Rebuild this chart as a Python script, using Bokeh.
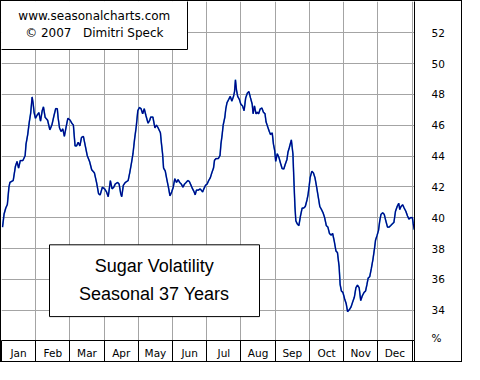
from bokeh.plotting import figure
from bokeh.models import Range1d, FixedTicker, Label, BoxAnnotation, CustomJSTickFormatter
from bokeh.embed import file_html
from bokeh.resources import INLINE

# ---- data ----
days = [0.9, 2.3, 3.8, 5.2, 6.6, 7.5, 10.4, 12.4, 13.8, 15.2, 16.7, 19.0, 21.0, 21.8, 23.3, 24.7,
        25.9, 26.7, 27.2, 28.1, 29.0, 30.2, 31.5, 33.3, 34.7, 36.2, 37.3, 38.8, 41.0, 43.0, 44.8,
        46.7, 48.2, 49.6, 50.4, 51.6, 53.0, 54.5, 55.9, 57.3, 59.0, 61.1, 62.5, 63.9, 65.4, 66.8,
        68.2, 69.7, 71.1, 72.8, 74.5, 76.2, 78.3, 80.2, 82.6, 84.5, 86.3, 87.7, 89.7, 91.7, 93.4,
        94.9, 96.8, 98.3, 99.8, 101.1, 103.2, 104.6, 106.0, 106.9, 108.3, 110.1, 112.6, 114.0,
        115.5, 116.9, 118.3, 119.8, 121.2, 122.6, 124.1, 125.5, 126.9, 128.4, 130.3, 131.8, 132.7,
        134.6, 136.4, 137.8, 139.3, 141.3, 142.1, 143.2, 144.1, 145.6, 147.0, 148.4, 149.8, 151.3,
        152.7, 154.1, 155.6, 157.0, 158.4, 159.9, 161.3, 162.7, 164.2, 165.6, 167.0, 168.5, 169.9,
        171.3, 172.2, 173.3, 175.0, 176.5, 177.6, 178.8, 179.9, 181.4, 182.8, 184.2, 185.7, 187.0,
        188.5, 189.4, 190.8, 192.8, 194.3, 195.1, 196.2, 197.1, 198.6, 199.4, 200.5, 202.0, 203.4,
        204.8, 206.3, 207.2, 208.0, 208.9, 210.0, 211.5, 212.8, 214.3, 215.7, 217.1, 218.6, 220.0,
        221.4, 222.9, 223.7, 224.9, 226.3, 227.4, 228.6, 230.0, 231.5, 232.9, 234.3, 235.2, 236.6,
        238.1, 239.2, 240.7, 241.8, 242.9, 243.8, 245.2, 246.7, 248.1, 249.5, 251.0, 252.3, 253.8,
        254.7, 255.8, 257.7, 259.1, 260.0, 260.9, 261.7, 263.0, 264.4, 265.8, 267.3, 268.7, 270.1,
        271.6, 272.5, 273.6, 274.4, 275.9, 277.3, 278.7, 280.2, 281.6, 283.0, 284.5, 285.9, 287.3,
        288.8, 290.2, 291.6, 293.1, 294.4, 295.9, 297.4, 298.7, 300.2, 301.1, 302.2, 303.6, 305.1,
        306.5, 307.7, 309.4, 310.8, 312.2, 313.7, 315.1, 316.5, 318.0, 319.4, 320.8, 322.3, 323.7,
        324.9, 326.0, 327.4, 328.8, 330.3, 331.7, 332.6, 334.0, 335.2, 336.3, 337.4, 338.9, 340.3,
        341.7, 343.2, 344.6, 346.0, 347.5, 348.9, 350.3, 351.8, 353.2, 354.1, 355.2, 356.7, 358.0,
        359.5, 361.0, 362.3, 363.8, 365.3, 366.1, 367.0]
volatility = [39.39, 40.24, 40.63, 40.86, 41.98, 42.29, 42.41, 43.34, 43.65, 43.22, 43.71, 43.71,
              44.02, 44.77, 45.39, 46.20, 46.76, 47.38, 47.83, 47.44, 46.82, 46.45, 46.63, 46.82,
              46.26, 46.94, 47.19, 46.51, 46.32, 45.70, 46.01, 46.63, 47.08, 47.07, 46.45, 45.82,
              45.59, 45.76, 45.28, 45.82, 46.45, 46.32, 46.13, 46.01, 44.66, 44.66, 44.89, 44.66,
              45.20, 45.28, 44.66, 44.04, 43.65, 43.11, 42.91, 42.29, 41.56, 41.48, 41.98, 41.87,
              41.67, 41.36, 42.41, 41.87, 41.98, 42.18, 42.29, 42.18, 41.56, 41.36, 42.10, 42.29,
              42.41, 42.91, 43.53, 44.15, 45.08, 45.91, 46.94, 47.15, 47.07, 46.74, 47.07, 46.63,
              46.13, 46.32, 46.53, 46.53, 45.82, 46.01, 45.82, 45.51, 44.89, 44.15, 43.22, 43.03,
              42.49, 41.98, 41.42, 41.67, 41.98, 42.53, 42.29, 42.47, 42.29, 42.18, 41.98, 42.18,
              42.29, 42.41, 42.35, 42.10, 41.87, 41.67, 41.48, 41.79, 41.79, 41.87, 41.79, 41.67,
              41.87, 42.10, 42.18, 42.41, 42.60, 42.91, 43.22, 43.73, 43.84, 43.84, 44.04, 44.77,
              45.39, 46.01, 46.53, 47.05, 47.46, 47.67, 47.87, 47.56, 47.87, 48.18, 48.95, 48.29,
              47.87, 47.67, 47.36, 47.25, 46.94, 47.77, 48.08, 48.18, 47.77, 47.36, 46.74, 47.25,
              46.74, 46.84, 46.74, 47.05, 47.11, 46.84, 46.74, 46.22, 45.91, 45.59, 45.39, 45.50,
              44.77, 44.35, 43.65, 44.15, 43.90, 43.53, 43.19, 43.16, 43.47, 43.78, 44.25, 44.52,
              45.05, 44.15, 42.39, 40.73, 39.80, 39.60, 39.49, 40.11, 40.63, 40.63, 40.73, 41.15,
              41.46, 42.08, 42.60, 43.01, 42.91, 42.60, 41.98, 41.36, 40.73, 40.53, 40.32, 40.01,
              39.49, 39.39, 38.98, 38.87, 38.98, 38.46, 37.84, 37.74, 36.81, 35.66, 35.25, 35.15,
              34.73, 34.42, 33.91, 34.05, 34.22, 34.53, 34.84, 35.46, 35.63, 35.46, 34.63, 34.94,
              35.15, 35.25, 35.66, 36.08, 36.18, 36.70, 37.32, 38.05, 38.56, 38.87, 39.18, 39.80,
              40.22, 40.32, 40.22, 39.80, 39.39, 39.39, 39.49, 39.60, 39.70, 40.42, 40.73, 40.94,
              40.53, 40.73, 40.84, 40.63, 40.42, 40.11, 39.91, 40.01, 40.01, 39.60, 39.23]
months = ["Jan", "Feb", "Mar", "Apr", "May", "Jun", "Jul", "Aug", "Sep", "Oct", "Nov", "Dec"]
y_ticks = [34, 36, 38, 40, 42, 44, 46, 48, 50, 52]
unit_label = "%"
title_lines = ["Sugar Volatility", "Seasonal 37 Years"]
credit_lines = ["www.seasonalcharts.com", "\u00a9 2007\u00a0\u00a0\u00a0Dimitri Speck"]

X_END = 367.2
Y_MIN, Y_MAX = 32.04, 54.02
UNIT_POS = 32.17   # where the unit sign sits on the value axis
month_len = 365 / 12
boundaries = [i * month_len for i in range(13)] + [X_END]
centers = [(i + 0.5) * month_len for i in range(12)]

W, H = 462, 362
MB_R, MB_B = 49, 23
FH = H - MB_B  # frame height

p = figure(width=W, height=H, output_backend="svg", toolbar_location=None,
           x_range=Range1d(0, X_END), y_range=Range1d(Y_MIN, Y_MAX),
           y_axis_location="right",
           min_border_left=0, min_border_top=0, min_border_right=MB_R, min_border_bottom=MB_B,
           background_fill_color="white", border_fill_color="white",
           outline_line_color=None, styles={"border": "1px solid black"})

GRID = "#a4a4a4"
p.xgrid.ticker = FixedTicker(ticks=boundaries[1:13])
p.ygrid.ticker = FixedTicker(ticks=y_ticks)
p.grid.grid_line_color = GRID
p.grid.grid_line_width = 1

# x axis: month row
xa = p.xaxis[0]
xa.ticker = FixedTicker(ticks=centers, minor_ticks=boundaries)
xa.formatter = CustomJSTickFormatter(args=dict(m=months),
                                     code="return m[Math.floor(tick * 12 / 365)]")
xa.axis_line_color = "black"
xa.major_tick_line_color = None
xa.major_tick_out = 0
xa.major_tick_in = 0
xa.minor_tick_line_color = "black"
xa.minor_tick_out = MB_B
xa.minor_tick_in = 0
xa.major_label_standoff = -17
xa.major_label_text_font = "DejaVu Sans"
xa.major_label_text_font_size = "10.5px"
xa.major_label_text_color = "black"

# right value axis (with the unit sign as its lowest label)
ya = p.yaxis[0]
ya.ticker = FixedTicker(ticks=y_ticks + [UNIT_POS])
ya.formatter = CustomJSTickFormatter(args=dict(u=unit_label, lo=min(y_ticks)),
                                     code="return tick < lo ? u : tick.toFixed(0)")
ya.axis_line_color = "black"
ya.major_tick_line_color = None
ya.major_tick_out = 0
ya.major_tick_in = 0
ya.minor_tick_line_color = None
ya.major_label_standoff = 17
ya.major_label_text_font = "DejaVu Sans"
ya.major_label_text_font_size = "10.5px"
ya.major_label_text_color = "black"

# series
p.line(days, volatility, line_color="#22a0d0", line_width=1.6)
p.line(days, volatility, line_color="#000088", line_width=1.25)

# credit box (top-left)
p.add_layout(BoxAnnotation(left=-2, right=186, top=FH + 2, bottom=FH - 48,
                           left_units="screen", right_units="screen",
                           top_units="screen", bottom_units="screen",
                           fill_color="white", fill_alpha=1.0,
                           line_color="black", line_width=1, line_alpha=1.0))
for txt, yy in zip(credit_lines, [FH - 14.4, FH - 31.3]):
    p.add_layout(Label(x=92.8, y=yy, x_units="screen", y_units="screen", text=txt,
                       text_align="center", text_baseline="middle",
                       text_font="DejaVu Sans", text_font_size="12px", text_color="black"))

# title box
p.add_layout(BoxAnnotation(left=48, right=258, top=95.7, bottom=23.9,
                           left_units="screen", right_units="screen",
                           top_units="screen", bottom_units="screen",
                           fill_color="white", fill_alpha=1.0,
                           line_color="black", line_width=1, line_alpha=1.0))
for txt, yy in zip(title_lines, [75.0, 46.2]):
    p.add_layout(Label(x=152.7, y=yy, x_units="screen", y_units="screen", text=txt,
                       text_align="center", text_baseline="middle",
                       text_font="Liberation Sans", text_font_size="18px", text_color="black"))

open("out.html", "w").write(file_html(p, INLINE))
